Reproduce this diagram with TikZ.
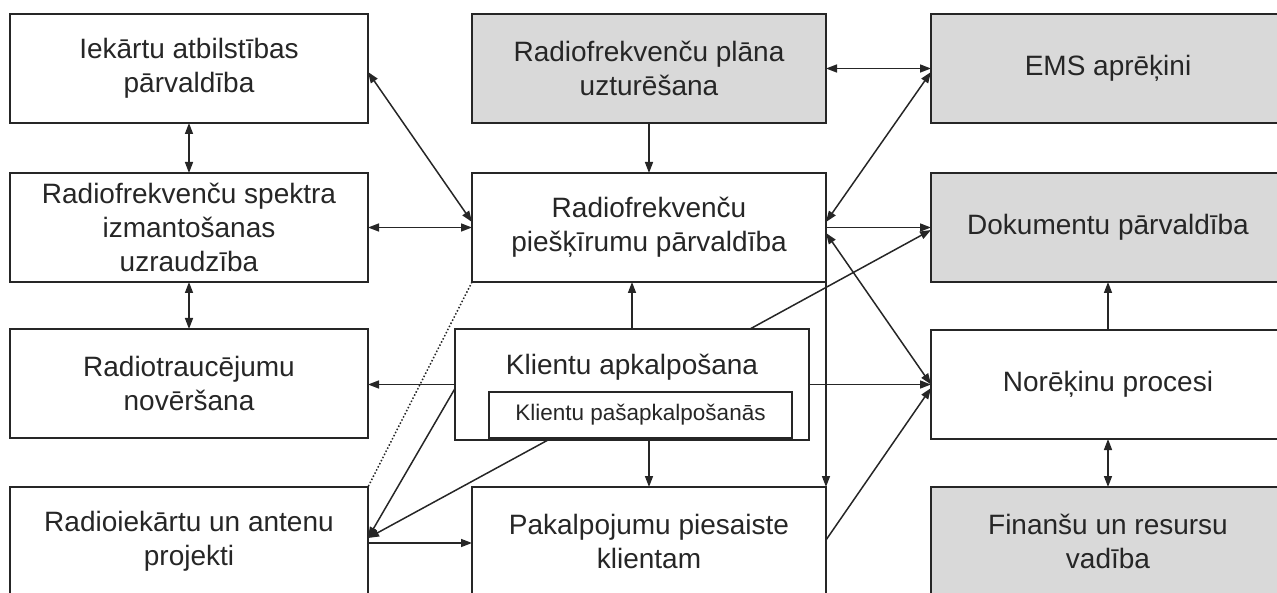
\documentclass[tikz,border=0pt]{standalone}
\usepackage{fontspec}
\setmainfont{Liberation Sans}
\usetikzlibrary{arrows.meta}
\definecolor{boxgray}{HTML}{D9D9D9}
\definecolor{ink}{HTML}{262626}
\tikzset{
  box/.style={draw=ink, line width=1.6pt, inner sep=0pt, outer sep=0pt, align=center,
    text=ink, font=\fontsize{28}{34}\selectfont, minimum width=354pt, minimum height=109pt},
  leftbox/.style={box, minimum width=358pt},
  graybox/.style={box, fill=boxgray},
  label/.style={inner sep=0pt, text=ink, font=\fontsize{28}{34}\selectfont},
  conn/.style={draw=ink, line width=1.5pt},
  tip/.tip={Triangle[length=11pt, width=8pt]},
  one/.style={conn, -tip},
  two/.style={conn, tip-tip},
  dots/.style={draw=ink, line width=1.5pt, dotted}
}
\begin{document}
\begin{tikzpicture}[x=1pt, y=-1pt]
\useasboundingbox (0,0) rectangle (1277,593);
% left column
\node[leftbox] (iek) at (189,68.5) {Iekārtu atbilstības\\pārvaldība};
\node[leftbox] (spe) at (189,227.5) {Radiofrekvenču spektra\\izmantošanas\\uzraudzība};
\node[leftbox, minimum height=109pt] (rtr) at (189,383.5) {Radiotraucējumu\\novēršana};
\node[leftbox] (rie) at (189,541.5) {Radioiekārtu un antenu\\projekti};
% middle column
\node[graybox] (pla) at (649,68.5) {Radiofrekvenču plāna\\uzturēšana};
\node[box] (pie) at (649,227.5) {Radiofrekvenču\\piešķīrumu pārvaldība};
\node[box, minimum width=354pt, minimum height=111pt] (kli) at (632,384.5) {};
\node[label] (klit) at (632,367) {Klientu apkalpošana};
\node[box, minimum width=303pt, minimum height=46pt, font=\fontsize{22.5}{27}\selectfont] (kps) at (640.5,415) {Klientu pašapkalpošanās};
\node[box] (pak) at (649,541.5) {Pakalpojumu piesaiste\\klientam};
% right column
\node[graybox] (ems) at (1108,68.5) {EMS aprēķini};
\node[graybox] (dok) at (1108,227.5) {Dokumentu pārvaldība};
\node[box] (nor) at (1108,384.5) {Norēķinu procesi};
\node[graybox] (fin) at (1108,541.5) {Finanšu un resursu\\vadība};
% connectors, left
\draw[two] (iek.south) -- (spe.north);
\draw[two] (spe.south) -- (rtr.north);
\draw[two] ([yshift=-3.5pt]iek.east) -- ([yshift=5.5pt]pie.west);
\draw[two] (spe.east) -- (pie.west);
\draw[one] (kli.west) -- (rtr.east |- kli.west);
\draw[one] ([yshift=-4pt]kli.west) -- ([yshift=3.5pt]rie.east);
\draw[one] ([xshift=-84pt]kli.south) -- ([yshift=3.5pt]rie.east);
\draw[one] ([yshift=-1.5pt]rie.east) -- ([yshift=-1.5pt]pak.west);
\draw[dots] (pie.south west) -- (rie.north east);
% connectors, middle
\draw[one] (pla.south) -- (pie.north);
\draw[one] (kli.north) -- (kli.north |- pie.south);
\draw[one] (kli.south -| pak.north) -- (pak.north);
\draw[one] (pie.south east) -- (pak.north east);
% connectors, right
\draw[two] (pla.east) -- (ems.west);
\draw[two] ([yshift=-3.5pt]ems.west) -- ([yshift=5.5pt]pie.east);
\draw[one] (pie.east) -- (dok.west);
\draw[two] (nor.west) -- ([yshift=-5.5pt]pie.east);
\draw[one] (kli.east) -- (nor.west);
\draw[one] ([xshift=118pt]kli.north) -- ([yshift=-2.5pt]dok.west);
\draw[one] ([yshift=1.5pt]pak.east) -- ([yshift=-3.5pt]nor.west);
\draw[one] (nor.north) -- (dok.south);
\draw[two] (nor.south) -- (fin.north);
\end{tikzpicture}
\end{document}
